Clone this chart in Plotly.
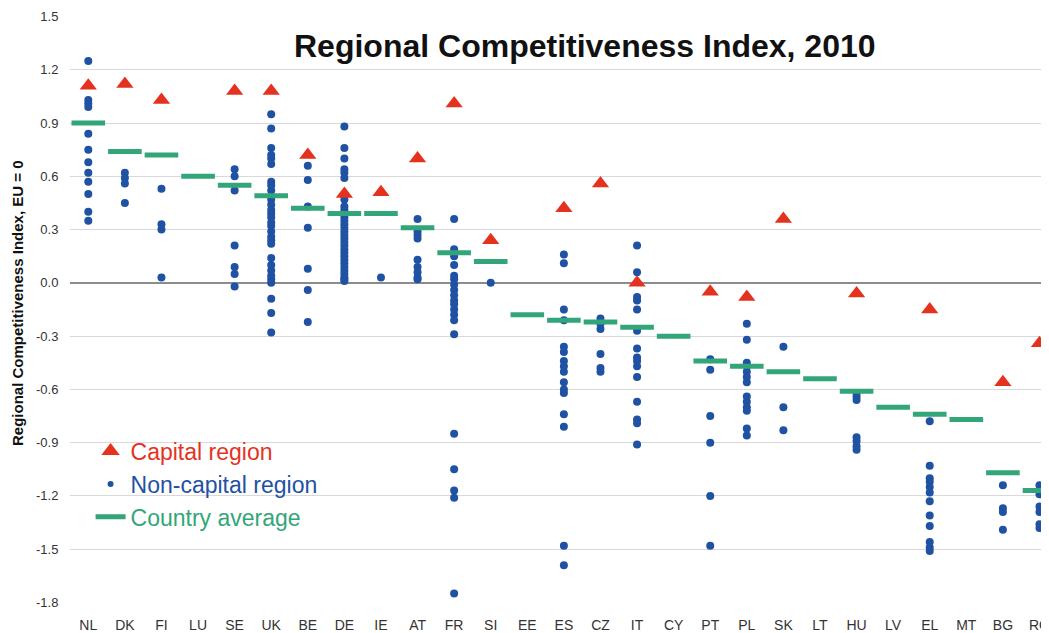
import plotly.graph_objects as go

countries = ["NL", "DK", "FI", "LU", "SE", "UK", "BE", "DE", "IE", "AT", "FR", "SI", "EE",
             "ES", "CZ", "IT", "CY", "PT", "PL", "SK", "LT", "HU", "LV", "EL", "MT", "BG", "RO"]

# Capital region values
capital = {
    "NL": 1.11, "DK": 1.12, "FI": 1.03, "SE": 1.08, "UK": 1.08, "BE": 0.72, "DE": 0.50,
    "IE": 0.51, "AT": 0.70, "FR": 1.01, "SI": 0.24, "ES": 0.42, "CZ": 0.56, "IT": 0.00,
    "PT": -0.05, "PL": -0.08, "SK": 0.36, "HU": -0.06, "EL": -0.15, "BG": -0.56, "RO": -0.34,
}

# Country averages
average = {
    "NL": 0.90, "DK": 0.74, "FI": 0.72, "LU": 0.60, "SE": 0.55, "UK": 0.49, "BE": 0.42,
    "DE": 0.39, "IE": 0.39, "AT": 0.31, "FR": 0.17, "SI": 0.12, "EE": -0.18, "ES": -0.21,
    "CZ": -0.22, "IT": -0.25, "CY": -0.30, "PT": -0.44, "PL": -0.47, "SK": -0.50,
    "LT": -0.54, "HU": -0.61, "LV": -0.70, "EL": -0.74, "MT": -0.77, "BG": -1.07, "RO": -1.17,
}

# Non-capital regions
noncap_NL = [1.25, 1.03, 1.01, 0.99, 0.84, 0.75, 0.68, 0.62, 0.57, 0.50, 0.40, 0.35]
noncap_DK = [0.62, 0.59, 0.56, 0.45]
noncap_FI = [0.53, 0.33, 0.30, 0.03]
noncap_SE = [0.64, 0.60, 0.52, 0.21, 0.09, 0.05, -0.02]
noncap_UK = [0.95, 0.87, 0.76, 0.72, 0.70, 0.67, 0.57, 0.55, 0.52, 0.47, 0.44, 0.41, 0.39,
             0.37, 0.34, 0.32, 0.29, 0.26, 0.24, 0.22, 0.14, 0.10, 0.07, 0.04, 0.02, 0.00,
             -0.09, -0.17, -0.28]
noncap_BE = [0.66, 0.58, 0.43, 0.31, 0.08, -0.04, -0.22]
noncap_DE = [0.88, 0.76, 0.70, 0.64, 0.62, 0.59, 0.47, 0.43, 0.41, 0.39, 0.37, 0.35, 0.33,
             0.31, 0.29, 0.27, 0.25, 0.23, 0.21, 0.19, 0.17, 0.15, 0.13, 0.11, 0.09, 0.07,
             0.05, 0.03, 0.02, 0.01]
noncap_IE = [0.03]
noncap_AT = [0.36, 0.29, 0.27, 0.25, 0.13, 0.09, 0.06, 0.03, 0.02]
noncap_FR = [0.36, 0.19, 0.15, 0.10, 0.04, 0.02, -0.01, -0.04, -0.07, -0.10, -0.12, -0.15,
             -0.18, -0.21, -0.29, -0.85, -1.05, -1.17, -1.21, -1.75]
noncap_SI = [0.00]
noncap_ES = [0.16, 0.11, -0.15, -0.21, -0.36, -0.39, -0.44, -0.47, -0.50, -0.56, -0.60,
             -0.62, -0.74, -0.81, -1.48, -1.59]
noncap_CZ = [-0.20, -0.23, -0.26, -0.40, -0.48, -0.50]
noncap_IT = [0.21, 0.06, -0.08, -0.10, -0.15, -0.27, -0.37, -0.42, -0.44, -0.47, -0.53,
             -0.67, -0.77, -0.79, -0.91]
noncap_PT = [-0.43, -0.49, -0.75, -0.90, -1.20, -1.48]
noncap_PL = [-0.23, -0.32, -0.45, -0.47, -0.50, -0.53, -0.56, -0.64, -0.67, -0.70, -0.72,
             -0.82, -0.86]
noncap_SK = [-0.36, -0.70, -0.83]
noncap_HU = [-0.62, -0.64, -0.66, -0.87, -0.89, -0.92, -0.94]
noncap_EL = [-0.78, -1.03, -1.10, -1.12, -1.15, -1.18, -1.23, -1.31, -1.37, -1.46, -1.49, -1.51]
noncap_BG = [-1.14, -1.27, -1.29, -1.39]
noncap_RO = [-1.14, -1.17, -1.19, -1.26, -1.29, -1.36, -1.38]

noncapital = {
    "NL": noncap_NL, "DK": noncap_DK, "FI": noncap_FI, "SE": noncap_SE, "UK": noncap_UK,
    "BE": noncap_BE, "DE": noncap_DE, "IE": noncap_IE, "AT": noncap_AT, "FR": noncap_FR,
    "SI": noncap_SI, "ES": noncap_ES, "CZ": noncap_CZ, "IT": noncap_IT, "PT": noncap_PT,
    "PL": noncap_PL, "SK": noncap_SK, "HU": noncap_HU, "EL": noncap_EL, "BG": noncap_BG,
    "RO": noncap_RO,
}

y_ticks = [1.5, 1.2, 0.9, 0.6, 0.3, 0.0, -0.3, -0.6, -0.9, -1.2, -1.5, -1.8]
y_ticktext = ["1.5", "1.2", "0.9", "0.6", "0.3", "0.0", "-0.3", "-0.6", "-0.9", "-1.2", "-1.5", "-1.8"]

RED = "#e5321f"
BLUE = "#1f52a3"
GREEN = "#33a679"
FONT = "Liberation Sans, Arial, sans-serif"

nx, ny = [], []
for c in countries:
    for v in noncapital.get(c, []):
        nx.append(c)
        ny.append(v)

ax = [c for c in countries if c in average]
ay = [average[c] for c in ax]
cx = [c for c in countries if c in capital]
cy = [capital[c] for c in cx]

fig = go.Figure()
fig.add_trace(go.Scatter(x=nx, y=ny, mode="markers", showlegend=False,
                         marker=dict(symbol="circle", size=8, color=BLUE)))
fig.add_trace(go.Scatter(x=ax, y=ay, mode="markers", showlegend=False,
                         marker=dict(symbol="line-ew", size=24, color=GREEN,
                                     line=dict(color=GREEN, width=5))))
fig.add_trace(go.Scatter(x=cx, y=cy, mode="markers", showlegend=False,
                         marker=dict(symbol="triangle-up", size=15, color=RED)))

# legend entries
fig.add_trace(go.Scatter(x=[None], y=[None], mode="markers",
                         name=f'<span style="color:{RED}">Capital region</span>',
                         marker=dict(symbol="triangle-up", size=16, color=RED)))
fig.add_trace(go.Scatter(x=[None], y=[None], mode="markers",
                         name=f'<span style="color:{BLUE}">Non-capital region</span>',
                         marker=dict(symbol="circle", size=6, color=BLUE)))
fig.add_trace(go.Scatter(x=[None], y=[None], mode="lines",
                         name=f'<span style="color:{GREEN}">Country average</span>',
                         line=dict(color=GREEN, width=5)))

# The page body has an 8px margin, so the figure is sized to end at the window edge.
fig.update_layout(
    width=1041, height=625,
    margin=dict(l=62, r=0, t=8, b=30),
    paper_bgcolor="white", plot_bgcolor="white",
    font=dict(family=FONT, color="#333333", size=13),
    showlegend=True,
    legend=dict(x=0.021, y=0.2955, xanchor="left", yanchor="top",
                font=dict(size=23, family=FONT), bgcolor="rgba(0,0,0,0)",
                itemwidth=30, tracegroupgap=0),
    annotations=[
        dict(text="<b>Regional Competitiveness Index, 2010</b>", xref="paper", yref="paper",
             x=0.526, y=(603 - 46) / 587, xanchor="center", yanchor="middle", showarrow=False,
             font=dict(size=32, color="#111111", family=FONT)),
        dict(text="<b>Regional Competitiveness Index, EU = 0</b>", xref="paper", yref="paper",
             x=(17 - 70) / 979, y=(603 - 303) / 587, xanchor="center", yanchor="middle",
             textangle=-90, showarrow=False,
             font=dict(size=15, color="#111111", family=FONT)),
    ],
)
fig.update_xaxes(type="category", categoryorder="array", categoryarray=countries,
                 range=[-0.5, 26.26], showgrid=False, zeroline=False, showline=False,
                 ticks="outside", ticklen=9, tickcolor="white",
                 tickfont=dict(size=14, color="#333333"))
fig.update_yaxes(range=[-1.803, 1.503], tickvals=y_ticks, ticktext=y_ticktext,
                 showgrid=True, gridcolor="#d9d9d9", gridwidth=1,
                 zeroline=True, zerolinecolor="#8c8c8c", zerolinewidth=1.5,
                 showline=False, ticks="outside", ticklen=8, tickcolor="white",
                 tickfont=dict(size=13, color="#333333"))

fig.write_html("out.html")
